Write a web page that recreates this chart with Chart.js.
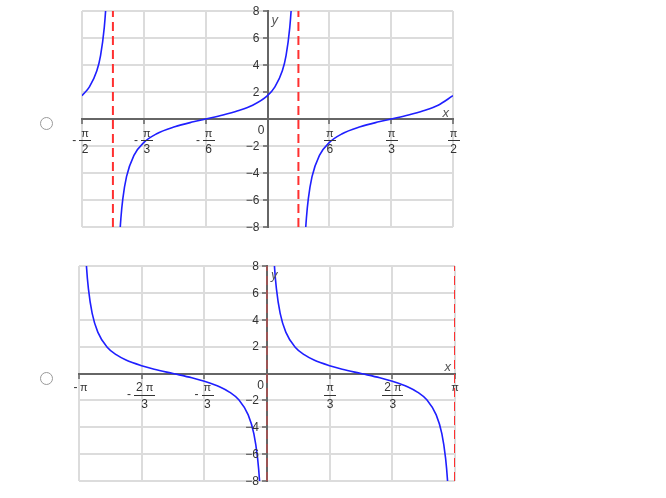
<!DOCTYPE html>
<html><head><meta charset="utf-8">
<script src="https://cdn.jsdelivr.net/npm/chart.js@4/dist/chart.umd.min.js"></script>
<style>
html,body{margin:0;padding:0;background:#fff;}
body{width:666px;height:498px;position:relative;overflow:hidden;font-family:"Liberation Sans",Arial,sans-serif;}
.radio{position:absolute;width:11px;height:11px;border:1px solid #9a9a9a;border-radius:50%;background:#fff;}
.wrap{position:absolute;}
</style></head><body>
<div class="radio" style="left:40px;top:117px"></div>
<div class="radio" style="left:40px;top:372px"></div>
<div class="wrap" style="left:62px;top:0px;width:410px;height:245px"><canvas id="c1"></canvas></div>
<div class="wrap" style="left:60px;top:252px;width:415px;height:246px"><canvas id="c2"></canvas></div>
<script>
// ---- Data (x in units of π) ----
const yTicks = [-8, -6, -4, -2, 0, 2, 4, 6, 8];

// Chart 1: y = tan(2x + π/3)
const c1XTicks = [-1/2, -1/3, -1/6, 0, 1/6, 1/3, 1/2];
const c1XLabels = ['-π/2', '-π/3', '-π/6', '', 'π/6', 'π/3', 'π/2'];
const c1BranchAX = [-0.5, -0.48, -0.46, -0.45, -0.44, -0.435, -0.43];
const c1BranchAY = [1.73, 2.38, 3.57, 4.70, 6.77, 8.64, 11.9];
const c1BranchBX = [-0.405, -0.40, -0.395, -0.39, -0.38, -0.36, -0.333, -0.30, -0.25, -0.20, -0.167, -0.12, -0.08, -0.04, 0, 0.02, 0.04, 0.05, 0.06, 0.065, 0.07];
const c1BranchBY = [-13.6, -9.51, -7.30, -5.91, -4.27, -2.69, -1.73, -1.11, -0.58, -0.21, 0, 0.30, 0.61, 1.02, 1.73, 2.38, 3.57, 4.70, 6.77, 8.64, 11.9];
const c1BranchCX = [0.095, 0.10, 0.105, 0.11, 0.12, 0.14, 0.167, 0.20, 0.25, 0.30, 0.333, 0.38, 0.42, 0.46, 0.5];
const c1BranchCY = [-13.6, -9.51, -7.30, -5.91, -4.27, -2.69, -1.73, -1.11, -0.58, -0.21, 0, 0.30, 0.61, 1.02, 1.73];
const c1Asymptotes = [-5/12, 1/12];

// Chart 2: y = cot(x)
const c2XTicks = [-1, -2/3, -1/3, 0, 1/3, 2/3, 1];
const c2XLabels = ['-π', '-2π/3', '-π/3', '', 'π/3', '2π/3', 'π'];
const c2BranchLX = [-0.975, -0.97, -0.96, -0.95, -0.93, -0.90, -0.85, -0.80, -0.75, -0.667, -0.60, -0.50, -0.40, -0.333, -0.25, -0.20, -0.15, -0.10, -0.07, -0.05, -0.04, -0.03, -0.025];
const c2BranchLY = [12.7, 10.6, 7.92, 6.31, 4.47, 3.08, 1.96, 1.38, 1.00, 0.58, 0.32, 0, -0.32, -0.58, -1.00, -1.38, -1.96, -3.08, -4.47, -6.31, -7.92, -10.6, -12.7];
const c2BranchRX = [0.025, 0.03, 0.04, 0.05, 0.07, 0.10, 0.15, 0.20, 0.25, 0.333, 0.40, 0.50, 0.60, 0.667, 0.75, 0.80, 0.85, 0.90, 0.93, 0.95, 0.96, 0.97, 0.975];
const c2BranchRY = [12.7, 10.6, 7.92, 6.31, 4.47, 3.08, 1.96, 1.38, 1.00, 0.58, 0.32, 0, -0.32, -0.58, -1.00, -1.38, -1.96, -3.08, -4.47, -6.31, -7.92, -10.6, -12.7];
const c2Asymptotes = [0, 1];

// ---- Rendering ----
const FONT = '"Liberation Sans", Arial, sans-serif';
const TXT = '#333';
const zip = (xs, ys) => xs.map((x, i) => ({x, y: ys[i]}));

function partWidths(ctx, s) {
  const parts = [];
  for (const ch of s) {
    ctx.font = (ch === 'π' ? '11px ' : '12px ') + FONT;
    parts.push({ch, w: ctx.measureText(ch).width});
  }
  let total = 0;
  parts.forEach((p, i) => { total += p.w + (i > 0 && p.ch === 'π' ? 3 : 0); });
  return {parts, total};
}
function drawParts(ctx, s, left, cy) {
  const {parts} = partWidths(ctx, s);
  let x = left;
  parts.forEach((p, i) => {
    if (i > 0 && p.ch === 'π') x += 3;
    ctx.font = (p.ch === 'π' ? '11px ' : '12px ') + FONT;
    ctx.textAlign = 'left';
    ctx.fillText(p.ch, x, cy);
    x += p.w;
  });
}
function drawTickLabel(ctx, label, tx, ay) {
  if (!label) return;
  const neg = label.startsWith('-');
  const body = neg ? label.slice(1) : label;
  const [num, den] = body.split('/');
  if (!den) {
    const w = partWidths(ctx, num).total;
    if (neg) {
      ctx.font = '12px ' + FONT; ctx.textAlign = 'right';
      ctx.fillText('-', tx - 1.5, ay + 14.5);
      drawParts(ctx, num, tx + 1, ay + 14.5);
    } else {
      drawParts(ctx, num, tx - w / 2, ay + 14.5);
    }
    return;
  }
  const nw = partWidths(ctx, num).total, dw = partWidths(ctx, den).total;
  const bw = Math.max(nw, dw) + 4;
  const fcx = tx + (neg ? 3 : 0.5);
  drawParts(ctx, num, fcx - nw / 2, ay + 14.5);
  ctx.fillRect(Math.round(fcx - bw / 2), Math.round(ay + 21), Math.round(bw), 1);
  drawParts(ctx, den, fcx - dw / 2, ay + 31);
  if (neg) {
    ctx.font = '12px ' + FONT; ctx.textAlign = 'right';
    ctx.fillText('-', fcx - bw / 2 - 3, ay + 21.5);
  }
}

const mathLabels = {
  id: 'mathLabels',
  afterDatasetsDraw(chart, args, opts) {
    const ctx = chart.ctx, xs = chart.scales.x, ys = chart.scales.y, ca = chart.chartArea;
    const ax = xs.getPixelForValue(0), ay = ys.getPixelForValue(0);
    ctx.save();
    ctx.fillStyle = TXT;
    ctx.textBaseline = 'middle';
    ctx.font = '12px ' + FONT;
    ctx.textAlign = 'right';
    opts.yTicks.forEach(v => {
      if (v === 0) return;
      ctx.fillText(String(v).replace('-', '−'), ax - 8, ys.getPixelForValue(v) + 0.5);
    });
    ctx.fillText('0', ax - 3, ay + 12);
    opts.xTicks.forEach((v, i) => drawTickLabel(ctx, opts.xLabels[i], xs.getPixelForValue(v), ay));
    ctx.fillStyle = '#555';
    ctx.font = 'italic 13px ' + FONT;
    ctx.textAlign = 'right';
    ctx.fillText('x', ca.right - 4, ay - 6);
    ctx.textAlign = 'left';
    ctx.fillText('y', ax + 4, ca.top + 9);
    ctx.restore();
  }
};

function makeChart(id, xMin, xMax, xTicks, xLabels, branches, asym, asymColors, padding) {
  const datasets = branches.map(b => ({
    data: b, borderColor: '#1f1fff', borderWidth: 1.6, pointRadius: 0,
    showLine: true, fill: false, cubicInterpolationMode: 'monotone'
  }));
  asym.forEach((a, i) => datasets.push({
    data: [{x: a, y: -8}, {x: a, y: 8}], borderColor: asymColors[i], borderWidth: 2,
    borderDash: [9, 5], pointRadius: 0, showLine: true, fill: false
  }));
  const gridColor = ctx => (ctx.tick && ctx.tick.value === 0) ? 'rgba(0,0,0,0)' : '#dcdcdc';
  return new Chart(document.getElementById(id), {
    type: 'scatter',
    data: {datasets},
    options: {
      responsive: true, maintainAspectRatio: false, animation: false,
      layout: {padding},
      plugins: {legend: {display: false}, tooltip: {enabled: false},
        mathLabels: {xTicks, xLabels, yTicks}},
      scales: {
        x: {type: 'linear', min: xMin, max: xMax, position: {y: 0},
          afterBuildTicks: s => { s.ticks = xTicks.map(v => ({value: v})); },
          ticks: {display: false},
          grid: {color: gridColor, lineWidth: 2, tickLength: 4, tickColor: '#666', tickWidth: 1.5},
          border: {color: '#666', width: 2}},
        y: {type: 'linear', min: -8, max: 8, position: {x: 0},
          afterBuildTicks: s => { s.ticks = yTicks.map(v => ({value: v})); },
          ticks: {display: false},
          grid: {color: gridColor, lineWidth: 2, tickLength: 4, tickColor: '#666', tickWidth: 1.5},
          border: {color: '#666', width: 2}}
      }
    },
    plugins: [mathLabels]
  });
}

makeChart('c1', -0.5, 0.5, c1XTicks, c1XLabels,
  [zip(c1BranchAX, c1BranchAY), zip(c1BranchBX, c1BranchBY), zip(c1BranchCX, c1BranchCY)],
  c1Asymptotes, ['#ff3030', '#ff3030'], {left: 20, top: 11, right: 19, bottom: 18});
makeChart('c2', -1, 1, c2XTicks, c2XLabels,
  [zip(c2BranchLX, c2BranchLY), zip(c2BranchRX, c2BranchRY)],
  c2Asymptotes, ['rgba(200,70,70,0.55)', '#ff3030'], {left: 19, top: 14, right: 20, bottom: 17});
</script>
</body></html>
